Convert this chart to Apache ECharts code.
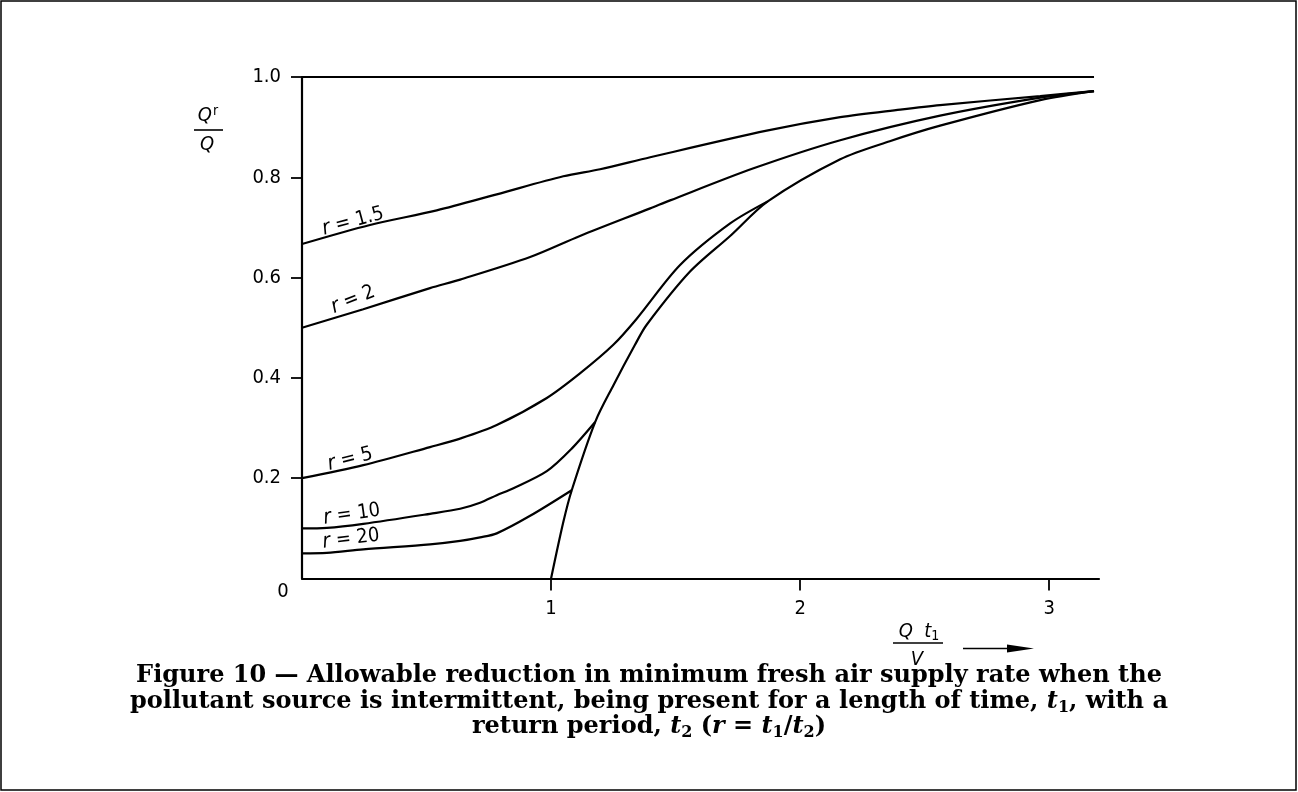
<!DOCTYPE html>
<html>
<head>
<meta charset="utf-8">
<style>
  html, body { margin: 0; padding: 0; background: #fff; }
  #main { width: 1298px; height: 792px; }
</style>
<script src="https://cdn.jsdelivr.net/npm/echarts@6/dist/echarts.min.js"></script>
</head>
<body>
<div id="main"></div>
<script>
// values (x = Q t1 / V, y = Q'/Q)
var xTicks = [1, 2, 3];
var yTicks = [0.2, 0.4, 0.6, 0.8, 1.0];

var topX = [0, 3.18];
var topY = [1, 1];

var r15X = [0, 0.273, 0.541, 0.782, 1.049, 1.197, 1.398, 1.866, 2.161, 2.402, 2.562, 2.964, 3.18];
var r15Y = [0.667, 0.705, 0.734, 0.766, 0.802, 0.816, 0.840, 0.893, 0.920, 0.935, 0.944, 0.962, 0.972];

var r2X = [0, 0.246, 0.514, 0.635, 0.916, 1.116, 1.398, 1.478, 1.813, 2.161, 2.562, 2.964, 3.18];
var r2Y = [0.5, 0.537, 0.579, 0.596, 0.641, 0.683, 0.738, 0.754, 0.818, 0.874, 0.923, 0.959, 0.972];

var r5X = [0, 0.246, 0.514, 0.635, 0.782, 0.983, 1.116, 1.25, 1.344, 1.518, 1.719, 1.87];
var r5Y = [0.2, 0.226, 0.262, 0.279, 0.306, 0.360, 0.409, 0.466, 0.518, 0.625, 0.708, 0.752];

var r10X = [0, 0.1, 0.246, 0.514, 0.635, 0.715, 0.782, 0.849, 0.983, 1.083, 1.177];
var r10Y = [0.1, 0.101, 0.109, 0.129, 0.139, 0.151, 0.166, 0.180, 0.214, 0.259, 0.312];

var r20X = [0, 0.1, 0.246, 0.514, 0.635, 0.715, 0.782, 0.916, 1.083];
var r20Y = [0.05, 0.051, 0.058, 0.068, 0.075, 0.082, 0.090, 0.125, 0.176];

// limiting curve that the r curves run into
var envX = [1.0, 1.049, 1.083, 1.177, 1.25, 1.337, 1.384, 1.558, 1.719, 1.87, 2.161, 2.36, 2.562, 2.964, 3.18];
var envY = [0, 0.112, 0.176, 0.312, 0.385, 0.466, 0.506, 0.612, 0.683, 0.752, 0.836, 0.872, 0.903, 0.954, 0.972];

var curveLabels = [
  { txt: '1.5', x: 0.205, y: 0.712, rot: 15 },
  { txt: '2',   x: 0.205, y: 0.556, rot: 22 },
  { txt: '5',   x: 0.193, y: 0.238, rot: 14 },
  { txt: '10',  x: 0.200, y: 0.128, rot: 8 },
  { txt: '20',  x: 0.197, y: 0.079, rot: 7 }
];

var FONT = "'DejaVu Sans Condensed', 'DejaVu Sans', sans-serif";
var SERIF = "'DejaVu Serif', 'Liberation Serif', serif";

function pts(xs, ys) {
  return xs.map(function (x, i) { return [x, ys[i]]; });
}

function curve(name, xs, ys) {
  return {
    name: name,
    type: 'line',
    data: pts(xs, ys),
    smooth: 0.3,
    showSymbol: false,
    silent: true,
    lineStyle: { color: '#000', width: 2.2 }
  };
}

var myChart = echarts.init(document.getElementById('main'));

var option = {
  backgroundColor: '#fff',
  animation: false,
  grid: { left: 302, right: 199, top: 77, bottom: 213.5 },
  xAxis: {
    type: 'value',
    min: 0,
    max: 3.2,
    interval: 1,
    splitLine: { show: false },
    axisLine: { lineStyle: { color: '#000', width: 2.2 } },
    axisTick: { customValues: xTicks, length: 12, lineStyle: { color: '#000', width: 1.8 } },
    axisLabel: {
      customValues: xTicks,
      margin: 20,
      color: '#000',
      fontFamily: FONT,
      fontSize: 20
    }
  },
  yAxis: {
    type: 'value',
    min: 0,
    max: 1,
    interval: 0.2,
    splitLine: { show: false },
    axisLine: { lineStyle: { color: '#000', width: 2.2 } },
    axisTick: { customValues: yTicks, length: 11, lineStyle: { color: '#000', width: 1.8 } },
    axisLabel: {
      customValues: yTicks,
      margin: 21,
      color: '#000',
      fontFamily: FONT,
      fontSize: 20,
      formatter: function (v) { return v.toFixed(1); }
    }
  },
  series: [
    curve('top', topX, topY),
    curve('r = 1.5', r15X, r15Y),
    curve('r = 2', r2X, r2Y),
    curve('r = 5', r5X, r5Y),
    curve('r = 10', r10X, r10Y),
    curve('r = 20', r20X, r20Y),
    curve('limit', envX, envY)
  ]
};

myChart.setOption(option);

// labels, axis titles, caption
var g = [];
g.push({
  type: 'rect',
  shape: { x: 1, y: 1, width: 1295, height: 789 },
  style: { fill: 'none', stroke: '#000', lineWidth: 1.5 }
});

curveLabels.forEach(function (c) {
  var p = myChart.convertToPixel({ gridIndex: 0 }, [c.x, c.y]);
  g.push({
    type: 'text',
    x: p[0],
    y: p[1],
    rotation: c.rot * Math.PI / 180,
    style: {
      text: '{i|r} = ' + c.txt,
      font: '20px ' + FONT,
      fill: '#000',
      align: 'center',
      verticalAlign: 'middle',
      rich: { i: { fontStyle: 'italic', fontSize: 21, fontFamily: FONT } }
    }
  });
});

// origin label
g.push({
  type: 'text', x: 283, y: 592,
  style: { text: '0', font: '20px ' + FONT, fill: '#000', align: 'center', verticalAlign: 'middle' }
});

// y title  Q^r / Q
g.push({
  type: 'text', x: 208, y: 116,
  style: {
    text: '{a|Q}{b|r}', fill: '#000', align: 'center', verticalAlign: 'middle',
    rich: {
      a: { fontStyle: 'italic', fontSize: 20, fontFamily: FONT },
      b: { fontSize: 14, fontFamily: FONT, padding: [0, 0, 10, 1] }
    }
  }
});
g.push({ type: 'line', shape: { x1: 194, y1: 130, x2: 223, y2: 130 }, style: { stroke: '#000', lineWidth: 1.6 } });
g.push({
  type: 'text', x: 207, y: 145,
  style: { text: 'Q', font: 'italic 20px ' + FONT, fill: '#000', align: 'center', verticalAlign: 'middle' }
});

// x title  Q t1 / V  ->
g.push({
  type: 'text', x: 919, y: 632,
  style: {
    text: '{a|Q  t}{b|1}', fill: '#000', align: 'center', verticalAlign: 'middle',
    rich: {
      a: { fontStyle: 'italic', fontSize: 20, fontFamily: FONT },
      b: { fontSize: 14, fontFamily: FONT, padding: [8, 0, 0, 0] }
    }
  }
});
g.push({ type: 'line', shape: { x1: 893, y1: 643, x2: 943, y2: 643 }, style: { stroke: '#000', lineWidth: 1.6 } });
g.push({
  type: 'text', x: 917, y: 660,
  style: { text: 'V', font: 'italic 20px ' + FONT, fill: '#000', align: 'center', verticalAlign: 'middle' }
});
g.push({ type: 'line', shape: { x1: 963, y1: 648.5, x2: 1010, y2: 648.5 }, style: { stroke: '#000', lineWidth: 1.6 } });
g.push({
  type: 'polygon',
  shape: { points: [[1007, 644.5], [1034, 648.5], [1007, 652.5]] },
  style: { fill: '#000' }
});

// caption
var capLines = [
  'Figure 10 \u2014 Allowable reduction in minimum fresh air supply rate when the',
  'pollutant source is intermittent, being present for a length of time, {i|t}{s|1}, with a',
  'return period, {i|t}{s|2} ({i|r} = {i|t}{s|1}/{i|t}{s|2})'
];
var capY = [676, 702, 727];
capLines.forEach(function (t, k) {
  g.push({
    type: 'text', x: 649, y: capY[k],
    style: {
      text: t,
      fill: '#000',
      align: 'center',
      verticalAlign: 'middle',
      font: 'bold 24px ' + SERIF,
      rich: {
        i: { fontStyle: 'italic', fontWeight: 'bold', fontSize: 24, fontFamily: SERIF },
        s: { fontWeight: 'bold', fontSize: 16, fontFamily: SERIF, padding: [11, 0, 0, 0] }
      }
    }
  });
});

myChart.setOption({ graphic: g });
</script>
</body>
</html>
